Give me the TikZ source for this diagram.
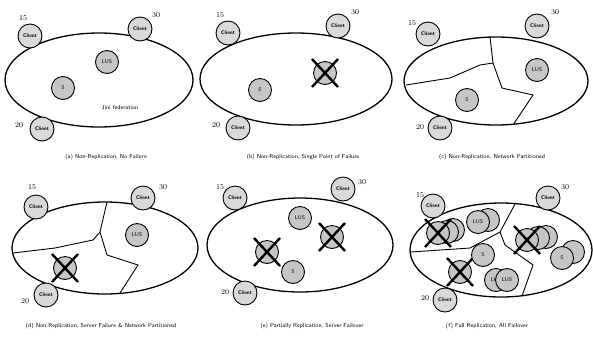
\documentclass[tikz,border=0pt]{standalone}
\usetikzlibrary{shapes.geometric}
\begin{document}
\begin{tikzpicture}[x=1pt,y=-1pt,
  fed/.style={ellipse,draw,line width=1.3pt,inner sep=0},
  client/.style={circle,draw,line width=0.9pt,fill=gray!30,minimum size=24pt,inner sep=0,font=\fontsize{5.2}{5}\selectfont\sffamily\bfseries},
  srv/.style={circle,draw,line width=0.9pt,fill=gray!45,minimum size=23pt,inner sep=0,font=\fontsize{5.5}{5.5}\selectfont\sffamily},
  num/.style={inner sep=0,font=\fontsize{7.5}{7}\selectfont},
  captxt/.style={inner sep=0,font=\fontsize{5.8}{6}\selectfont\sffamily},
  part/.style={line width=0.9pt},
  xline/.style={line width=2.4pt}]
\useasboundingbox (0,0) rectangle (593,338);
\newcommand{\failx}[1]{%
  \draw[xline] ([shift={(-13,-14)}]#1.center) -- ([shift={(13,14)}]#1.center);
  \draw[xline] ([shift={(13,-14)}]#1.center) -- ([shift={(-13,14)}]#1.center);}

% ---------- (a)
\node[fed,minimum width=188pt,minimum height=94pt] (ea) at (99,80) {};
\node[client] (a15) at (30,36) {Client};
\node[client] (a30) at (140,29) {Client};
\node[client] (a20) at (42,129) {Client};
\node[num] (la15) at (23,18) {15};
\node[num] (la30) at (156,15) {30};
\node[num] (la20) at (19,125) {20};
\node[srv] (alus) at (107,62) {LUS};
\node[srv] (as) at (63,88) {S};
\node[captxt] (ajini) at (120,108) {Jini federation};
\node[captxt] (capa) at (106,157) {(a) Non-Replication, No Failure};

% ---------- (b)
\node[fed,minimum width=192pt,minimum height=92pt] (eb) at (296,79) {};
\node[client] (b15) at (228,33) {Client};
\node[client] (b30) at (338,26) {Client};
\node[client] (b20) at (238,128) {Client};
\node[num] (lb15) at (220,15) {15};
\node[num] (lb30) at (355,12) {30};
\node[num] (lb20) at (216,125) {20};
\node[srv] (bs) at (260,90) {S};
\node[srv] (blus) at (325,73) {};
\failx{blus}
\node[captxt] (capb) at (303,157) {(b) Non-Replication, Single Point of Failure};

% ---------- (c)
\node[fed,minimum width=184pt,minimum height=88pt] (ec) at (496,81) {};
\draw[part] (490,37) -- (493,63) -- (502,88) -- (533,95) -- (513,125);
\draw[part] (406,85) -- (450,78) -- (480,65) -- (493,63);
\node[client] (c15) at (428,34) {Client};
\node[client] (c30) at (537,26) {Client};
\node[client] (c20) at (440,128) {Client};
\node[num] (lc15) at (412,23) {15};
\node[num] (lc30) at (555,12) {30};
\node[num] (lc20) at (420,127) {20};
\node[srv] (clus) at (537,70) {LUS};
\node[srv] (cs) at (467,100) {S};
\node[captxt] (capc) at (492,157) {(c) Non-Replication, Network Partitioned};

% ---------- (d)
\node[fed,minimum width=186pt,minimum height=92pt] (ed) at (105,248) {};
\draw[part] (107,202) -- (100,232) -- (107,255) -- (138,265) -- (120,293);
\draw[part] (13,253) -- (55,248) -- (93,240) -- (100,232);
\node[client] (d15) at (36,207) {Client};
\node[client] (d30) at (143,198) {Client};
\node[client] (d20) at (46,295) {Client};
\node[num] (ld15) at (32,187) {15};
\node[num] (ld30) at (163,187) {30};
\node[num] (ld20) at (25,301) {20};
\node[srv] (dlus) at (137,235) {LUS};
\node[srv] (ds) at (65,268) {};
\failx{ds}
\node[captxt] (capd) at (101,326) {(d) Non Replication, Server Failure \& Network Partitioned};

% ---------- (e)
\node[fed,minimum width=186pt,minimum height=94pt] (ee) at (300,245) {};
\node[client] (e15) at (235,198) {Client};
\node[client] (e30) at (343,189) {Client};
\node[client] (e20) at (245,293) {Client};
\node[num] (le15) at (220,187) {15};
\node[num] (le30) at (362,182) {30};
\node[num] (le20) at (225,292) {20};
\node[srv] (elus) at (300,218) {LUS};
\node[srv] (ef1) at (332,237) {};
\failx{ef1}
\node[srv] (ef2) at (267,252) {};
\failx{ef2}
\node[srv] (es) at (293,272) {S};
\node[captxt] (cape) at (312,326) {(e) Partially Replication, Server Failover};

% ---------- (f)
\node[fed,minimum width=182pt,minimum height=94pt] (ef) at (501,250) {};
\draw[part] (515,204) -- (500,232) -- (505,245) -- (533,265) -- (522,296);
\draw[part] (411,252) -- (470,248) -- (500,232);
\node[client] (f15) at (433,206) {Client};
\node[client] (f30) at (548,198) {Client};
\node[client] (f20) at (445,300) {Client};
\node[num] (lf15) at (420,195) {15};
\node[num] (lf30) at (565,187) {30};
\node[num] (lf20) at (425,298) {20};
% top-left region
\node[srv] (fa3) at (453,230) {};
\node[srv] (fa2) at (447,232) {};
\node[srv] (fa1) at (438,233) {};
\failx{fa1}
\node[srv] (fl2) at (488,220) {};
\node[srv] (fl1) at (478,222) {LUS};
% right region
\node[srv] (fb3) at (546,237) {};
\node[srv] (fb2) at (538,238) {};
\node[srv] (fb1) at (527,240) {};
\failx{fb1}
\node[srv] (fs2) at (573,252) {};
\node[srv] (fs1) at (562,258) {S};
% bottom region
\node[srv] (fc1) at (460,272) {};
\failx{fc1}
\node[srv] (fcs) at (483,255) {S};
\node[srv] (fm2) at (496,280) {LUS};
\node[srv] (fm1) at (507,280) {LUS};
\node[captxt] (capf) at (487,326) {(f) Full Replication, All Failover};
\end{tikzpicture}
\end{document}
